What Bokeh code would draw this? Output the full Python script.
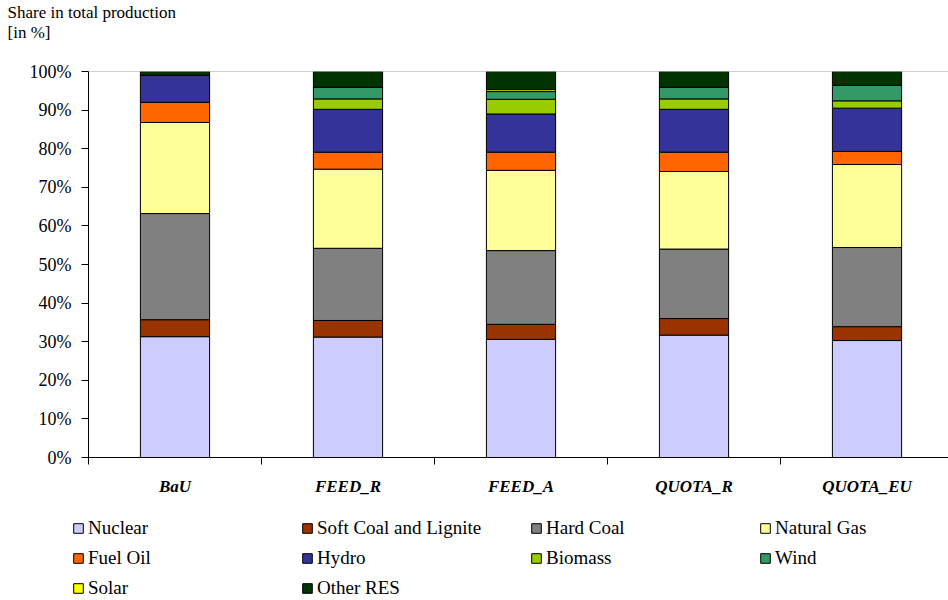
from bokeh.plotting import figure
from bokeh.layouts import column, row
from bokeh.models import (Range1d, FixedTicker, Legend, LegendItem, Span, Label,
                          ColumnDataSource)
from bokeh.embed import file_html
from bokeh.resources import INLINE

# ---- data -------------------------------------------------------------
categories = ["BaU", "FEED_R", "FEED_A", "QUOTA_R", "QUOTA_EU"]
series_names = ["Nuclear", "Soft Coal and Lignite", "Hard Coal", "Natural Gas",
                "Fuel Oil", "Hydro", "Biomass", "Wind", "Solar", "Other RES"]
nuclear = [31.3, 31.2, 30.6, 31.7, 30.3]
soft_coal = [4.4, 4.3, 3.9, 4.3, 3.6]
hard_coal = [27.5, 18.7, 19.1, 18.0, 20.5]
natural_gas = [23.6, 20.5, 20.8, 20.1, 21.5]
fuel_oil = [5.2, 4.4, 4.7, 5.0, 3.4]
hydro = [7.0, 11.1, 9.9, 11.1, 11.2]
biomass = [0.0, 2.7, 3.8, 2.7, 1.9]
wind = [0.0, 3.0, 2.0, 3.0, 4.0]
solar = [0.0, 0.0, 0.5, 0.0, 0.0]
other_res = [1.0, 4.1, 4.7, 4.1, 3.6]
series_values = [nuclear, soft_coal, hard_coal, natural_gas, fuel_oil,
                 hydro, biomass, wind, solar, other_res]
colors = ["#CCCCFF", "#993300", "#808080", "#FFFF99", "#FF6600",
          "#333399", "#99CC00", "#339966", "#FFFF00", "#003300"]
y_ticks = [0, 10, 20, 30, 40, 50, 60, 70, 80, 90, 100]
y_tick_labels = ["0%", "10%", "20%", "30%", "40%", "50%", "60%", "70%",
                 "80%", "90%", "100%"]
title_lines = ["Share in total production", "[in %]"]

FONT = "Liberation Serif"

# ---- header (axis title, two lines) -------------------------------------------
head = figure(width=948, height=60, output_backend="svg", toolbar_location=None,
              x_range=Range1d(0, 948), y_range=Range1d(0, 60),
              x_axis_location=None, y_axis_location=None,
              min_border_left=0, min_border_right=0, min_border_top=0,
              min_border_bottom=0)
head.outline_line_color = None
head.grid.visible = False
for txt, yy in zip(title_lines, [48, 28.5]):
    head.add_layout(Label(x=7, y=yy, x_units="screen", y_units="screen", text=txt,
                          text_font=FONT, text_font_size="17px", text_color="black",
                          text_baseline="alphabetic", text_align="left"))

# ---- main chart -------------------------------------------------------------
x_pos = list(range(len(categories)))
data = {"x": x_pos}
for name, vals in zip(series_names, series_values):
    data[name] = vals
source = ColumnDataSource(data)

p = figure(frame_width=860, frame_height=386, output_backend="svg",
           toolbar_location=None,
           x_range=Range1d(-0.5, 4.471), y_range=Range1d(0, 100),
           min_border_left=88, min_border_right=0, min_border_top=11,
           min_border_bottom=50)
p.outline_line_color = None
p.xgrid.visible = False
p.ygrid.visible = False

p.vbar_stack(series_names, x="x", width=0.4, source=source,
             fill_color=colors, line_color="black", line_width=1)

p.add_layout(Span(location=100, dimension="width", line_color="#a0a0a0",
                  line_width=1))

xa = p.xaxis[0]
xa.ticker = FixedTicker(ticks=x_pos, minor_ticks=[i - 0.5 for i in x_pos])
xa.major_label_overrides = {i: c for i, c in zip(x_pos, categories)}
xa.major_tick_line_color = None
xa.major_tick_out = 7
xa.major_tick_in = 0
xa.minor_tick_line_color = "black"
xa.minor_tick_out = 7
xa.minor_tick_in = 0
xa.axis_line_color = "black"
xa.major_label_standoff = 12
xa.major_label_text_font = FONT
xa.major_label_text_font_size = "17px"
xa.major_label_text_font_style = "bold italic"
xa.major_label_text_color = "black"

ya = p.yaxis[0]
ya.ticker = FixedTicker(ticks=y_ticks)
ya.major_label_overrides = {t: s for t, s in zip(y_ticks, y_tick_labels)}
ya.major_tick_out = 7
ya.major_tick_in = 0
ya.minor_tick_line_color = None
ya.major_tick_line_color = "black"
ya.axis_line_color = "black"
ya.major_label_standoff = 10
ya.major_label_text_font = FONT
ya.major_label_text_font_size = "18px"
ya.major_label_text_color = "black"

# ---- legend strip -----------------------------------------------------------
leg = figure(width=948, height=93, output_backend="svg", toolbar_location=None,
             x_range=Range1d(0, 1), y_range=Range1d(0, 1),
             x_axis_location=None, y_axis_location=None,
             min_border_left=0, min_border_right=0, min_border_top=0,
             min_border_bottom=0)
leg.outline_line_color = None
leg.grid.visible = False
items = []
for name, col in zip(series_names, colors):
    # off-screen swatch renderer, used only to draw the legend glyph
    r = leg.vbar(x=[-5], top=[-5], bottom=[-6], width=0.1, fill_color=col,
                 line_color="black", line_width=1)
    items.append(LegendItem(label=name, renderers=[r]))
legend = Legend(items=items, orientation="horizontal", ncols=4, location=(72, 1),
                glyph_width=12, glyph_height=12, label_standoff=4, label_width=205,
                label_height=21, spacing=8, padding=0, margin=0,
                border_line_color=None, background_fill_alpha=0,
                label_text_font=FONT, label_text_font_size="19px",
                label_text_color="black")
leg.add_layout(legend, "center")

layout = column(row(head), p, row(leg), spacing=0)
open("out.html", "w").write(file_html(layout, INLINE))
